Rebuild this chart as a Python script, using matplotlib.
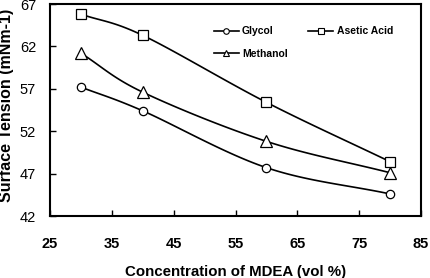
import numpy as np
import matplotlib
matplotlib.use("Agg")
import matplotlib.pyplot as plt

plt.rcParams['font.family'] = ['Liberation Sans', 'DejaVu Sans']

conc = [30, 40, 60, 80]
glycol = [57.2, 54.4, 47.7, 44.6]
asetic = [65.8, 63.3, 55.4, 48.4]
methanol = [61.2, 56.6, 50.8, 47.1]
xticks = [25, 35, 45, 55, 65, 75, 85]
yticks = [42, 47, 52, 57, 62, 67]


def smooth(x, y, n=30):
    # Catmull-Rom style smoothing through the data points (Excel "smoothed line")
    x = np.asarray(x, float)
    y = np.asarray(y, float)
    px = np.concatenate([[2 * x[0] - x[1]], x, [2 * x[-1] - x[-2]]])
    py = np.concatenate([[2 * y[0] - y[1]], y, [2 * y[-1] - y[-2]]])
    xs, ys = [], []
    t = np.linspace(0, 1, n)
    for i in range(1, len(px) - 2):
        p0, p1, p2, p3 = [np.array([px[j], py[j]]) for j in (i - 1, i, i + 1, i + 2)]
        m1 = (p2 - p0) / 6.0
        m2 = (p3 - p1) / 6.0
        b0 = p1
        b1 = p1 + m1
        b2 = p2 - m2
        b3 = p2
        pts = (np.outer((1 - t) ** 3, b0) + np.outer(3 * (1 - t) ** 2 * t, b1)
               + np.outer(3 * (1 - t) * t ** 2, b2) + np.outer(t ** 3, b3))
        xs.extend(pts[:, 0])
        ys.extend(pts[:, 1])
    return np.array(xs), np.array(ys)


fig = plt.figure(figsize=(4.3, 2.78), dpi=100)
ax = fig.add_axes([0.1163, 0.223, 0.863, 0.7626])

series = [("Glycol", glycol, 'o', 6), ("Methanol", methanol, '^', 8), ("Asetic Acid", asetic, 's', 6.5)]
for name, vals, mk, ms in series:
    sx, sy = smooth(conc, vals)
    ax.plot(sx, sy, color='black', lw=1.2, zorder=2)
    ax.plot(conc, vals, linestyle='none', marker=mk, markersize=ms,
            markerfacecolor='white', markeredgecolor='black', markeredgewidth=0.9, zorder=3)

handles = [plt.Line2D([], [], color='black', lw=1.2, marker=mk, markersize=4,
                      markerfacecolor='white', markeredgecolor='black', markeredgewidth=0.8)
           for _, _, mk, _ in series]
leg = ax.legend(handles, [s[0] for s in series], ncol=2, loc='upper left',
                bbox_to_anchor=(0.43, 0.915), frameon=False, handlelength=2.4,
                handletextpad=0.3, columnspacing=2.0, labelspacing=1.2,
                prop={'weight': 'bold', 'size': 7.5}, borderaxespad=0)

ax.set_xlim(25, 85)
ax.set_ylim(42, 67)
ax.set_xticks(xticks)
ax.set_yticks(yticks)
ax.set_xticklabels([str(v) for v in xticks], fontweight='bold', fontsize=10.5)
ax.set_yticklabels([str(v) for v in yticks], fontsize=10.5)
ax.tick_params(axis='both', direction='in', length=4, width=1, top=False, right=False)
ax.tick_params(axis='x', pad=15)
ax.tick_params(axis='y', pad=10)
for sp in ax.spines.values():
    sp.set_linewidth(1.5)

ax.set_xlabel("Concentration of MDEA (vol %)", fontweight='bold', fontsize=10.8)
ax.xaxis.set_label_coords(0.5, -0.232)
ax.set_ylabel("Surface Tension (mNm-1)", fontweight='bold', fontsize=11.5)
ax.yaxis.set_label_coords(-0.097, 0.52)

fig.savefig("out.png", dpi=100)
